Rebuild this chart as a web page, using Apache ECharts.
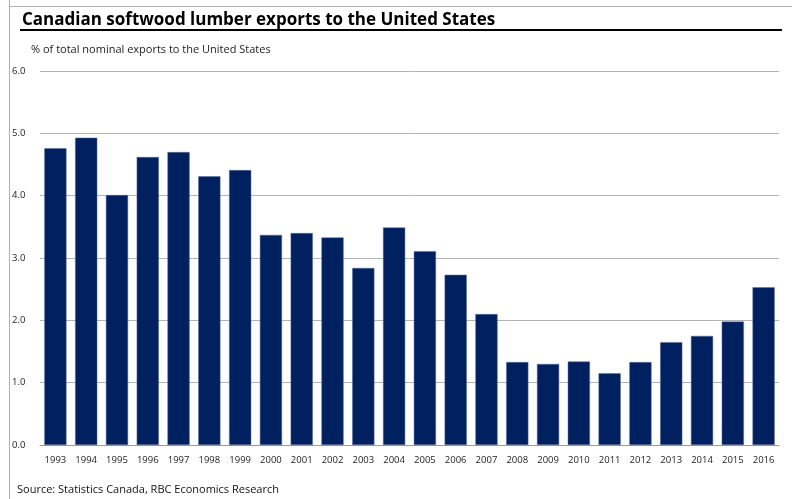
<!DOCTYPE html>
<html>
<head>
<meta charset="utf-8">
<script src="https://cdn.jsdelivr.net/npm/echarts@6/dist/echarts.min.js"></script>
<style>html,body{margin:0;padding:0;background:#fff}#c{width:792px;height:499px}</style>
</head>
<body>
<div id="c"></div>
<script>
const years = ['1993','1994','1995','1996','1997','1998','1999','2000','2001','2002','2003','2004','2005','2006','2007','2008','2009','2010','2011','2012','2013','2014','2015','2016'];
const shareOfExports = [4.76,4.93,4.01,4.62,4.70,4.31,4.41,3.37,3.40,3.33,2.84,3.49,3.11,2.73,2.10,1.33,1.30,1.34,1.15,1.33,1.65,1.75,1.98,2.53];
const yTicks = [0,1,2,3,4,5,6];

const chart = echarts.init(document.getElementById('c'), null, {renderer:'canvas'});
const font = '"Open Sans", "Noto Sans", sans-serif';
chart.setOption({
  animation:false,
  backgroundColor:'#fff',
  title:[
    {text:'Canadian softwood lumber exports to the United States', left:22, top:12, padding:0,
     textStyle:{fontFamily:font, fontWeight:'bold', fontSize:17, color:'#000'}},
    {text:'% of total nominal exports to the United States', left:31, top:44, padding:0,
     textStyle:{fontFamily:font, fontWeight:'normal', fontSize:11, color:'#222'}},
    {text:'Source: Statistics Canada, RBC Economics Research', left:17, top:484, padding:0,
     textStyle:{fontFamily:font, fontWeight:'normal', fontSize:11, color:'#111'}}
  ],
  graphic:[
    {type:'line', shape:{x1:9.5,y1:0,x2:9.5,y2:499}, style:{stroke:'#b0b0b0', lineWidth:1}},
    {type:'line', shape:{x1:9,y1:6.5,x2:792,y2:6.5}, style:{stroke:'#b0b0b0', lineWidth:1}},
    {type:'line', shape:{x1:20,y1:30,x2:782,y2:30}, style:{stroke:'#000', lineWidth:2}}
  ],
  grid:{left:40, right:13, top:71, bottom:54, containLabel:false},
  xAxis:{
    type:'category', data:years,
    axisLine:{lineStyle:{color:'#999', width:1}},
    axisTick:{show:false},
    axisLabel:{fontFamily:font, fontSize:9.5, color:'#222', margin:10, interval:0}
  },
  yAxis:{
    type:'value', min:yTicks[0], max:yTicks[yTicks.length-1], interval:1,
    axisLine:{show:false}, axisTick:{show:false},
    splitLine:{lineStyle:{color:'#b4b4b4', width:1}},
    axisLabel:{fontFamily:font, fontSize:9.5, color:'#222', margin:28, align:'left',
      formatter:v=>v.toFixed(1)}
  },
  series:[{
    type:'bar', data:shareOfExports, barCategoryGap:'28%',
    itemStyle:{color:'#002060', borderColor:'#5a6f9a', borderWidth:0.5}
  }]
});
</script>
</body>
</html>
